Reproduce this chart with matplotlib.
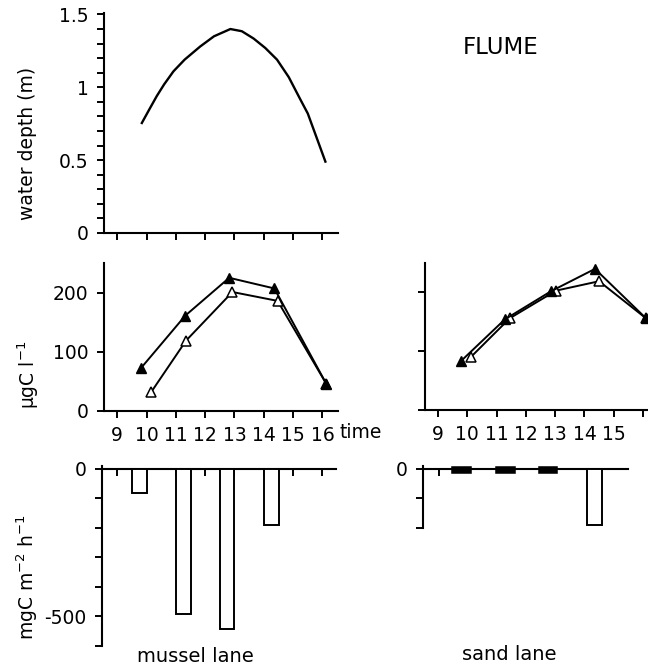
import matplotlib.pyplot as plt
from matplotlib.ticker import MultipleLocator

plt.rcParams["font.family"] = ["DejaVu Sans"]
plt.rcParams["mathtext.default"] = "regular"
plt.rcParams["axes.linewidth"] = 1.5

# water depth over the tidal cycle
depth_hour = [9.84, 10.1, 10.35, 10.6, 10.92, 11.3, 11.83, 12.3, 12.86,
              13.25, 13.65, 14.05, 14.45, 14.85, 15.25, 15.5, 15.7, 15.9, 16.1]
depth_m = [0.755, 0.85, 0.94, 1.02, 1.11, 1.19, 1.28, 1.35, 1.40,
           1.385, 1.335, 1.27, 1.19, 1.07, 0.915, 0.82, 0.71, 0.60, 0.49]

# POC concentration, mussel lane
mussel_in_hour = [9.82, 11.32, 12.82, 14.36, 16.13]
mussel_in = [73, 161, 225, 207, 46]
mussel_out_hour = [10.16, 11.35, 12.93, 14.47, 16.13]
mussel_out = [32, 119, 201, 186, 46]

# POC concentration, sand lane
sand_in_hour = [9.78, 11.28, 12.86, 14.36, 16.1]
sand_in = [83, 154, 202, 240, 156]
sand_out_hour = [10.12, 11.45, 13.03, 14.5, 16.1]
sand_out = [90, 156, 203, 219, 156]

# flux per interval
mussel_flux_hour = [9.77, 11.27, 12.75, 14.27]
mussel_flux = [-80, -492, -544, -189]
sand_flux_hour = [9.77, 11.26, 12.72, 14.3]
sand_flux = [-8, -8, -8, -189]

hour_ticks = list(range(9, 17))
left_labels = ["9", "10", "11", "12", "13", "14", "15", "16"]
right_labels = ["9", "10", "11", "12", "13", "14", "15", ""]

W, H = 648, 665
FS = 13.5


def axes_px(fig, x0, y0, x1, y1):
    # pixel box (top-left origin) -> figure axes
    return fig.add_axes([x0 / W, 1 - y1 / H, (x1 - x0) / W, (y1 - y0) / H])


def style(ax):
    for s in ("top", "right"):
        ax.spines[s].set_visible(False)
    ax.tick_params(axis="both", direction="out", length=5, width=1.4,
                   labelsize=FS, pad=6)
    ax.tick_params(axis="y", which="minor", direction="out", length=5, width=1.4)


fig = plt.figure(figsize=(W / 100, H / 100), dpi=100)

# ---- water depth
ax = axes_px(fig, 104, 13, 338, 233)
style(ax)
ax.plot(depth_hour, depth_m, color="black", lw=1.7)
ax.set_xlim(8.55, 16.53)
ax.set_ylim(0, 1.51)
ax.set_yticks([0, 0.5, 1, 1.5])
ax.set_yticklabels(["0", "0.5", "1", "1.5"])
ax.yaxis.set_minor_locator(MultipleLocator(0.1))
ax.set_xticks(hour_ticks)
ax.set_xticklabels([])
fig.text(28 / W, 1 - 143 / H, "water depth (m)", rotation=90, ha="center",
         va="center", fontsize=FS)
fig.text(501 / W, 1 - 48 / H, "FLUME", ha="center", va="center", fontsize=16.5)

# ---- concentration, mussel lane
ax = axes_px(fig, 104, 263, 338, 411)
style(ax)
ax.plot(mussel_out_hour, mussel_out, color="black", lw=1.4, marker="^", ms=7.5,
        mfc="white", mec="black", mew=1.1)
ax.plot(mussel_in_hour, mussel_in, color="black", lw=1.4, marker="^", ms=7.5,
        mfc="black", mec="black")
ax.set_xlim(8.55, 16.53)
ax.set_ylim(0, 250)
ax.set_yticks([0, 100, 200])
ax.set_xticks(hour_ticks)
ax.set_xticklabels(left_labels)
fig.text(28 / W, 1 - 375 / H, "µgC l$^{-1}$", rotation=90, ha="center",
         va="center", fontsize=FS)
fig.text(339 / W, 1 - 432 / H, "time", ha="left", va="center", fontsize=FS)

# ---- concentration, sand lane
ax = axes_px(fig, 425, 263, 648, 410)
style(ax)
ax.plot(sand_out_hour, sand_out, color="black", lw=1.4, marker="^", ms=7.5,
        mfc="white", mec="black", mew=1.1, clip_on=False)
ax.plot(sand_in_hour, sand_in, color="black", lw=1.4, marker="^", ms=7.5,
        mfc="black", mec="black", clip_on=False)
ax.set_xlim(8.556, 16.17)
ax.set_ylim(0, 250)
ax.set_yticks([0, 100, 200])
ax.set_yticklabels([])
ax.set_xticks(hour_ticks)
ax.set_xticklabels(right_labels)

# ---- flux, mussel lane
ax = axes_px(fig, 102, 466, 336, 646)
for s in ("top", "right"):
    ax.spines[s].set_visible(False)
ax.spines["bottom"].set_position(("data", 0))
ax.tick_params(axis="both", direction="out", length=5, width=1.4,
               labelsize=FS, pad=6)
ax.bar(mussel_flux_hour, mussel_flux, width=0.5, color="white",
       edgecolor="black", linewidth=1.4, zorder=3)
ax.set_xlim(8.49, 16.47)
ax.set_ylim(-600, 10)
ax.set_yticks([0, -100, -200, -300, -400, -500, -600])
ax.set_yticklabels(["0", "", "", "", "", "-500", ""])
ax.set_xticks(hour_ticks)
ax.set_xticklabels([])
fig.text(27 / W, 1 - 577 / H, "mgC m$^{-2}$ h$^{-1}$", rotation=90,
         ha="center", va="center", fontsize=FS)
fig.text(195 / W, 1 - 656 / H, "mussel lane", ha="center", va="center",
         fontsize=14)

# ---- flux, sand lane
ax = axes_px(fig, 423, 466, 628, 528)
for s in ("top", "right"):
    ax.spines[s].set_visible(False)
ax.spines["bottom"].set_position(("data", 0))
ax.tick_params(axis="both", direction="out", length=5, width=1.4,
               labelsize=FS, pad=6)
small = [abs(v) < 50 for v in sand_flux]
ax.bar(sand_flux_hour, sand_flux, width=0.5,
       color=["black" if s else "white" for s in small],
       edgecolor="black", linewidth=[4 if s else 1.4 for s in small], zorder=3)
ax.set_xlim(8.45, 15.45)
ax.set_ylim(-200, 10)
ax.set_yticks([0, -100, -200])
ax.set_yticklabels(["0", "", ""])
ax.set_xticks([9])
ax.set_xticklabels([])
fig.text(509 / W, 1 - 655 / H, "sand lane", ha="center", va="center",
         fontsize=14)

fig.savefig("out.png", dpi=100)
